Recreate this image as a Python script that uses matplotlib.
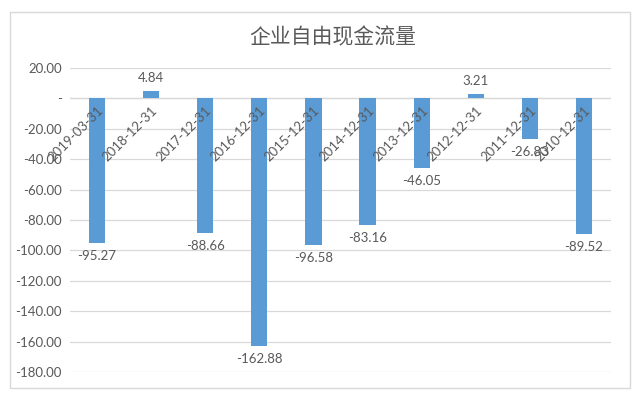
import matplotlib
matplotlib.use("Agg")
import matplotlib.pyplot as plt
from matplotlib.patches import Rectangle
from matplotlib.ticker import FuncFormatter, MultipleLocator

categories = ["2019-03-31", "2018-12-31", "2017-12-31", "2016-12-31", "2015-12-31",
              "2014-12-31", "2013-12-31", "2012-12-31", "2011-12-31", "2010-12-31"]
values = [-95.27, 4.84, -88.66, -162.88, -96.58, -83.16, -46.05, 3.21, -26.83, -89.52]
title = "企业自由现金流量"

plt.rcParams['font.family'] = ['Lato', 'Noto Sans CJK SC', 'DejaVu Sans']
gray = "#595959"

fig = plt.figure(figsize=(6.4, 4.04), dpi=100)
fig.patch.set_facecolor("white")
fig.patches.append(Rectangle((10/640, 1-388/404), 620/640, (388-12)/404,
                             transform=fig.transFigure, fill=False,
                             edgecolor="#D9D9D9", linewidth=1.0))

ax = fig.add_axes([70/640, 1-372/404, (611-70)/640, (372-68)/404])
x = list(range(len(categories)))
ax.bar(x, values, width=0.3, color="#5B9BD5", zorder=3)
ax.set_xlim(-0.5, len(categories)-0.5)
ax.set_ylim(-180, 20)
ax.yaxis.set_major_locator(MultipleLocator(20))
ax.yaxis.set_major_formatter(FuncFormatter(lambda v, p: "-" if abs(v) < 1e-9 else f"{v:.2f}"))
ax.grid(axis="y", color="#D9D9D9", linewidth=0.9, zorder=0)
for s in ax.spines.values():
    s.set_visible(False)
ax.axhline(0, color="#D9D9D9", linewidth=0.9, zorder=1)
ax.set_xticks([])
ax.tick_params(axis="y", length=0, pad=6, labelsize=9.5, labelcolor=gray)

for xi, cat in zip(x, categories):
    ax.annotate(cat, (xi, 0), xytext=(0, -4), textcoords="offset points",
                ha="right", va="top", rotation=45, rotation_mode="anchor",
                fontsize=9.5, color=gray, zorder=4)

for xi, v in zip(x, values):
    if v >= 0:
        ax.annotate(f"{v:.2f}", (xi, v), xytext=(0, 5), textcoords="offset points",
                    ha="center", va="bottom", fontsize=9.5, color=gray, zorder=4)
    else:
        ax.annotate(f"{v:.2f}", (xi, v), xytext=(0, -5), textcoords="offset points",
                    ha="center", va="top", fontsize=9.5, color=gray, zorder=4)

fig.text(333/640, 1-37/404, title, ha="center", va="center", fontsize=15,
         color=gray, family=["Noto Sans CJK SC", "DejaVu Sans"], fontweight="light")

fig.savefig("out.png", dpi=100)
